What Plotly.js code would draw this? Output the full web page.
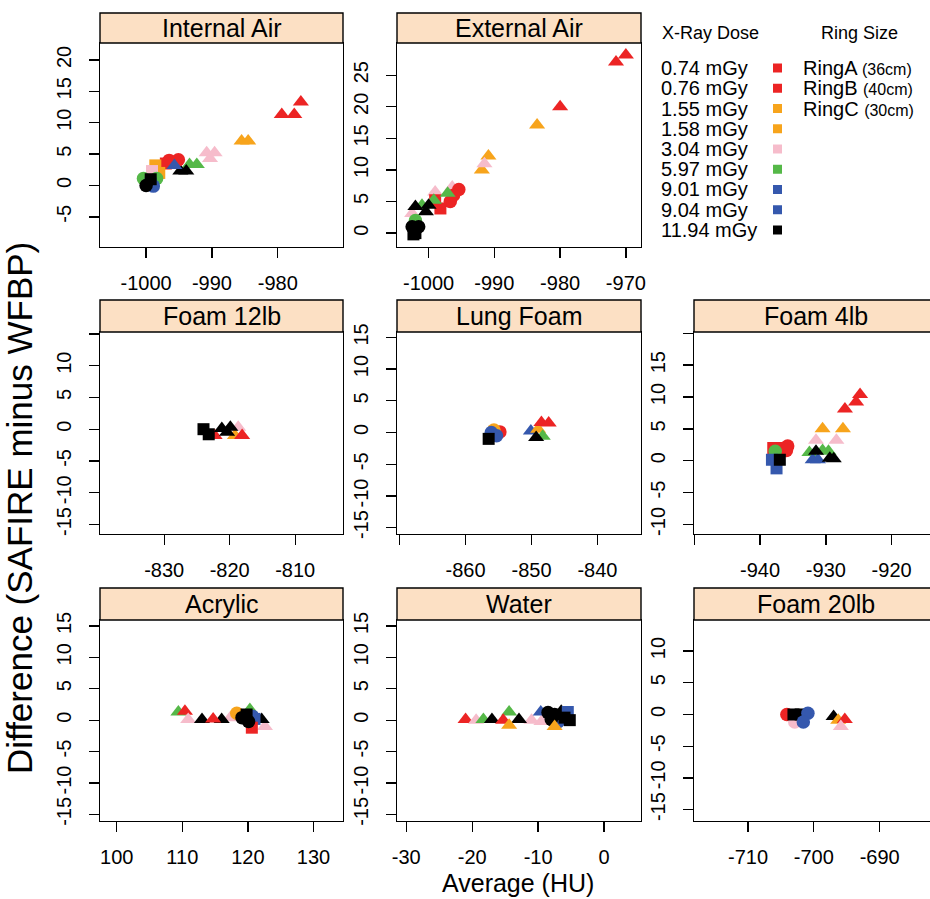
<!DOCTYPE html>
<html><head><meta charset="utf-8">
<script src="https://cdn.plot.ly/plotly-3.0.1.min.js"></script>
<style>html,body{margin:0;padding:0;overflow:hidden;background:#fff}</style>
</head><body><div id="chart" style="width:940px;height:899px"></div>
<script>
// ---------------- data ----------------
const doseLabels = ['0.74 mGy','0.76 mGy','1.55 mGy','1.58 mGy','3.04 mGy','5.97 mGy','9.01 mGy','9.04 mGy','11.94 mGy'];
const doseColors = ['#ec2424','#ec2424','#f7a41c','#f7a41c','#f6bccb','#55b848','#3558ad','#3558ad','#000000'];
const ringNames = ['RingA','RingB','RingC'];
const ringSizes = ['(36cm)','(40cm)','(30cm)'];
const ringSymbols = {A:'circle', B:'square', C:'triangle-up'};
const panelTitles = ['Internal Air','External Air','Foam 12lb','Lung Foam','Foam 4lb','Acrylic','Water','Foam 20lb'];

// rows: [average HU, difference, dose index, ring]
const internalAir = [
  [-979.4,11.3,0,'C'],[-977.5,11.3,1,'C'],[-976.5,13.3,0,'C'],
  [-985.5,7.1,2,'C'],[-984.5,7.1,3,'C'],
  [-990.8,5.2,4,'C'],[-989.6,5.2,4,'C'],[-990.3,4.3,4,'C'],
  [-993.4,3.35,5,'C'],[-992.3,3.35,5,'C'],
  [-994.8,2.3,8,'C'],[-993.9,2.3,8,'C'],
  [-996.5,4.0,0,'A'],[-995.1,4.1,1,'A'],[-997.0,3.5,1,'B'],[-995.7,3.2,6,'C'],
  [-998.6,3.2,2,'B'],[-998.0,2.0,3,'B'],[-999.1,2.3,4,'B'],
  [-1000.4,1.1,5,'A'],[-998.4,1.1,5,'A'],
  [-998.9,-0.1,6,'A'],[-999.3,0.3,7,'B'],
  [-1000.0,0.0,8,'A'],[-999.3,1.0,8,'B']
];
const externalAir = [
  [-971.5,27.1,0,'C'],[-970.0,28.2,1,'C'],[-980.0,20.0,0,'C'],
  [-983.5,17.1,2,'C'],[-990.9,12.2,3,'C'],[-991.9,10.0,2,'C'],[-991.5,11.0,4,'C'],
  [-995.4,6.9,0,'A'],[-996.2,6.0,1,'A'],[-996.7,5.0,0,'A'],
  [-998.2,3.9,1,'B'],[-999.0,5.2,0,'B'],
  [-996.4,7.3,4,'C'],[-999.0,6.5,4,'C'],[-1002.5,3.1,4,'C'],
  [-997.1,6.3,5,'C'],[-999.2,5.2,5,'C'],[-1001.0,4.4,5,'C'],
  [-1002.0,4.2,8,'C'],[-1000.4,3.4,8,'C'],[-1000.0,4.4,8,'C'],
  [-1002.0,2.0,5,'A'],
  [-1002.5,1.0,8,'A'],[-1001.5,1.0,8,'A'],[-1002.0,0.0,8,'B'],[-1002.3,-0.2,8,'B']
];
const foam12lb = [
  [-822.3,-1.0,0,'C'],
  [-824.0,0.0,8,'B'],[-823.2,-0.8,8,'B'],
  [-818.7,0.3,4,'C'],[-819.2,-1.0,2,'C'],[-818.1,-1.0,1,'C'],
  [-821.2,0.1,8,'C'],[-819.9,0.3,8,'C'],[-820.4,-0.5,8,'C']
];
const lungFoam = [
  [-854.8,0.1,0,'A'],[-855.7,0.4,2,'A'],
  [-856.1,0.0,6,'A'],[-855.3,-0.5,7,'A'],
  [-856.5,-1.0,8,'B'],
  [-850.1,0.25,6,'C'],[-849.0,0.5,2,'C'],
  [-848.5,1.6,0,'C'],[-847.4,1.5,1,'C'],
  [-848.3,-0.6,5,'C'],[-849.3,-0.8,8,'C']
];
const foam4lb = [
  [-924.8,10.4,0,'C'],[-925.4,9.2,1,'C'],[-927.1,8.1,0,'C'],
  [-930.5,5.0,2,'C'],[-927.4,5.0,3,'C'],
  [-931.5,3.2,4,'C'],[-928.4,3.2,4,'C'],
  [-932.5,1.3,5,'C'],[-930.5,1.6,5,'C'],[-929.6,1.5,5,'C'],
  [-932.0,0.15,6,'C'],[-931.2,0.15,7,'C'],
  [-931.5,1.5,8,'C'],[-929.4,0.4,8,'C'],[-928.8,0.3,8,'C'],
  [-938.0,2.0,0,'B'],[-936.6,2.0,1,'B'],[-935.8,2.3,0,'A'],[-936.0,1.6,1,'A'],
  [-937.7,1.5,5,'A'],
  [-938.2,0.15,6,'B'],[-937.5,-1.2,7,'B'],
  [-937.0,0.15,8,'B']
];
const acrylic = [
  [109.4,1.3,5,'C'],[110.4,1.4,0,'C'],[110.9,0.1,4,'C'],
  [113.0,0.1,8,'C'],[114.7,0.2,1,'C'],[116.0,0.1,8,'C'],[117.3,0.4,4,'C'],
  [118.3,1.1,2,'A'],[120.3,1.7,5,'C'],
  [120.7,0.6,6,'A'],[121.0,0.2,7,'B'],[120.6,-1.2,0,'B'],
  [119.1,0.4,8,'A'],[119.8,0.9,8,'B'],[120.1,-0.2,8,'A'],
  [122.1,0.1,8,'C'],[122.6,-1.0,4,'C']
];
const water = [
  [-21.0,0.1,0,'C'],[-19.4,0.0,4,'C'],[-18.3,0.1,5,'C'],[-17.0,0.1,8,'C'],
  [-15.3,0.0,1,'C'],[-14.4,1.3,5,'C'],[-14.4,-0.8,2,'C'],[-12.9,0.1,8,'C'],
  [-11.0,0.0,4,'C'],[-9.5,-0.2,4,'C'],[-9.6,1.3,6,'C'],
  [-7.0,-0.3,6,'A'],[-8.5,1.2,8,'A'],[-8.0,0.1,8,'A'],[-7.5,0.9,8,'A'],
  [-7.5,-1.0,3,'C'],[-6.5,1.4,8,'C'],
  [-5.5,1.3,7,'B'],[-5.2,0.0,8,'B'],[-6.0,0.4,8,'B']
];
const foam20lb = [
  [-704.1,0.0,0,'A'],[-702.9,-1.2,4,'A'],
  [-703.1,0.0,8,'B'],[-702.0,0.0,8,'B'],
  [-700.9,0.2,6,'A'],[-701.6,-1.2,7,'A'],
  [-697.0,-0.3,8,'C'],[-696.3,-0.9,2,'C'],[-695.3,-0.8,0,'C'],[-695.9,-1.9,4,'C']
];
const panelData = [internalAir, externalAir, foam12lb, lungFoam, foam4lb, acrylic, water, foam20lb];

// tick values and labels per panel
const xTickVals = [[-1000,-990,-980,-970],[-1000,-990,-980,-970],[-830,-820,-810],[-870,-860,-850,-840],[-950,-940,-930,-920],[100,110,120,130],[-30,-20,-10,0],[-710,-700,-690]];
const xTickText = [['-1000','-990','-980',''],['-1000','-990','-980','-970'],['-830','-820','-810'],['','-860','-850','-840'],['','-940','-930','-920'],['100','110','120','130'],['-30','-20','-10','0'],['-710','-700','-690']];
const yTickVals = [[-5,0,5,10,15,20],[0,5,10,15,20,25],[-15,-10,-5,0,5,10,15],[-15,-10,-5,0,5,10,15],[-10,-5,0,5,10,15,20],[-15,-10,-5,0,5,10,15],[-15,-10,-5,0,5,10,15],[-15,-10,-5,0,5,10]];
const yTickText = [['-5','0','5','10','15','20'],['0','5','10','15','20','25'],['-15','-10','-5','0','5','10',''],['-15','-10','-5','0','5','10','15'],['-10','-5','0','5','10','15',''],['-15','-10','-5','0','5','10','15'],['-15','-10','-5','0','5','10','15'],['-15','-10','-5','0','5','10']];

// ---------------- layout geometry ----------------
const W = 940, H = 899;
const cols = [[100,343],[397,641],[694,937]];
const rows = [{s:[13,43],p:[43,247]},{s:[300,332],p:[332,534]},{s:[588,620],p:[620,821]}];
const panelPos = [[0,0],[0,1],[1,0],[1,1],[1,2],[2,0],[2,1],[2,2]];
const xRanges = [[-1007,-970.1],[-1004.8,-967.7],[-839.8,-802.7],[-870.4,-833.4],[-950.05,-913.1],[97.45,134.5],[-31.4,5.6],[-718.2,-681.3]];
const yRanges = [[-9.8,22.7],[-2.2,30.1],[-16.5,15.3],[-16,15.85],[-11.5,20.2],[-16.06,15.95],[-16.06,15.95],[-16.8,14.9]];

const fx = p => p / W;
const fy = p => 1 - p / H;
const FONT = 'Liberation Sans, Arial, Helvetica, sans-serif';

const traces = [];
const layout = {
  width: W, height: H,
  margin: {l:0, r:0, t:0, b:0},
  paper_bgcolor: '#ffffff', plot_bgcolor: '#ffffff',
  showlegend: false,
  font: {family: FONT, color: '#000', size: 20},
  shapes: [], annotations: []
};

panelData.forEach((pts, i) => {
  const n = i + 1;
  const xa = 'x' + (n === 1 ? '' : n), ya = 'y' + (n === 1 ? '' : n);
  const groups = {};
  pts.forEach(([x, y, d, r]) => {
    const k = d + '_' + r;
    if (!groups[k]) groups[k] = {x: [], y: [], d, r};
    groups[k].x.push(x); groups[k].y.push(y);
  });
  Object.values(groups).forEach(g => {
    const sym = ringSymbols[g.r];
    traces.push({
      type: 'scatter', mode: 'markers', x: g.x, y: g.y, xaxis: xa, yaxis: ya,
      marker: {color: doseColors[g.d], symbol: sym, size: sym === 'square' ? 12 : (sym === 'circle' ? 13.5 : 14), line: {width: 0}},
      hoverinfo: 'x+y'
    });
  });
  const [ri, ci] = panelPos[i];
  const c = cols[ci], r = rows[ri];
  const axBase = {
    showline: true, mirror: true, linecolor: '#000', linewidth: 1.4,
    ticks: 'outside', ticklen: 10, tickwidth: 1.3, tickcolor: '#000',
    showgrid: false, zeroline: false, tickmode: 'array',
    tickfont: {family: FONT, size: 20, color: '#000'}
  };
  layout['xaxis' + (n === 1 ? '' : n)] = Object.assign({}, axBase, {
    domain: [fx(c[0]), Math.min(1, fx(c[1]))], anchor: ya, range: xRanges[i],
    tickvals: xTickVals[i], ticktext: xTickText[i], ticklabelstandoff: 8
  });
  layout['yaxis' + (n === 1 ? '' : n)] = Object.assign({}, axBase, {
    domain: [fy(r.p[1]), fy(r.p[0])], anchor: xa, range: yRanges[i],
    tickvals: yTickVals[i], ticktext: yTickText[i], tickangle: -90, ticklabelstandoff: 10
  });
  layout.shapes.push({type: 'rect', xref: 'paper', yref: 'paper',
    x0: fx(c[0]), x1: fx(c[1]), y0: fy(r.s[1]), y1: fy(r.s[0]),
    fillcolor: '#fce0c4', line: {color: '#000', width: 1.4}, layer: 'above'});
  layout.annotations.push({xref: 'paper', yref: 'paper', x: fx((c[0] + c[1]) / 2), y: fy((r.s[0] + r.s[1]) / 2),
    text: panelTitles[i], showarrow: false, xanchor: 'center', yanchor: 'middle',
    font: {family: FONT, size: 25, color: '#000'}});
});

// axis titles
layout.annotations.push({xref: 'paper', yref: 'paper', x: fx(518), y: fy(883), text: 'Average (HU)',
  showarrow: false, xanchor: 'center', yanchor: 'middle', font: {family: FONT, size: 25}});
layout.annotations.push({xref: 'paper', yref: 'paper', x: fx(19), y: fy(508), text: 'Difference (SAFIRE minus WFBP)',
  showarrow: false, textangle: -90, xanchor: 'center', yanchor: 'middle', font: {family: FONT, size: 35}});

// key
layout.annotations.push({xref: 'paper', yref: 'paper', x: fx(710.5), y: fy(33), text: 'X-Ray Dose',
  showarrow: false, xanchor: 'center', yanchor: 'middle', font: {family: FONT, size: 18}});
layout.annotations.push({xref: 'paper', yref: 'paper', x: fx(859), y: fy(33), text: 'Ring Size',
  showarrow: false, xanchor: 'center', yanchor: 'middle', font: {family: FONT, size: 18}});
doseLabels.forEach((lab, k) => {
  const yy = 68 + k * 20.25;
  layout.annotations.push({xref: 'paper', yref: 'paper', x: fx(659), y: fy(yy), text: lab,
    showarrow: false, xanchor: 'left', yanchor: 'middle', font: {family: FONT, size: 20}});
  layout.shapes.push({type: 'rect', xref: 'paper', yref: 'paper', x0: fx(773), x1: fx(782),
    y0: fy(yy + 4.5), y1: fy(yy - 4.5), fillcolor: doseColors[k], line: {width: 0}});
});
ringNames.forEach((nm, k) => {
  const yy = 68 + k * 20.25;
  layout.annotations.push({xref: 'paper', yref: 'paper', x: fx(801), y: fy(yy),
    text: nm + ' <span style="font-size:16px">' + ringSizes[k] + '</span>',
    showarrow: false, xanchor: 'left', yanchor: 'middle', font: {family: FONT, size: 20}});
});

Plotly.newPlot('chart', traces, layout, {staticPlot: true});
</script></body></html>
